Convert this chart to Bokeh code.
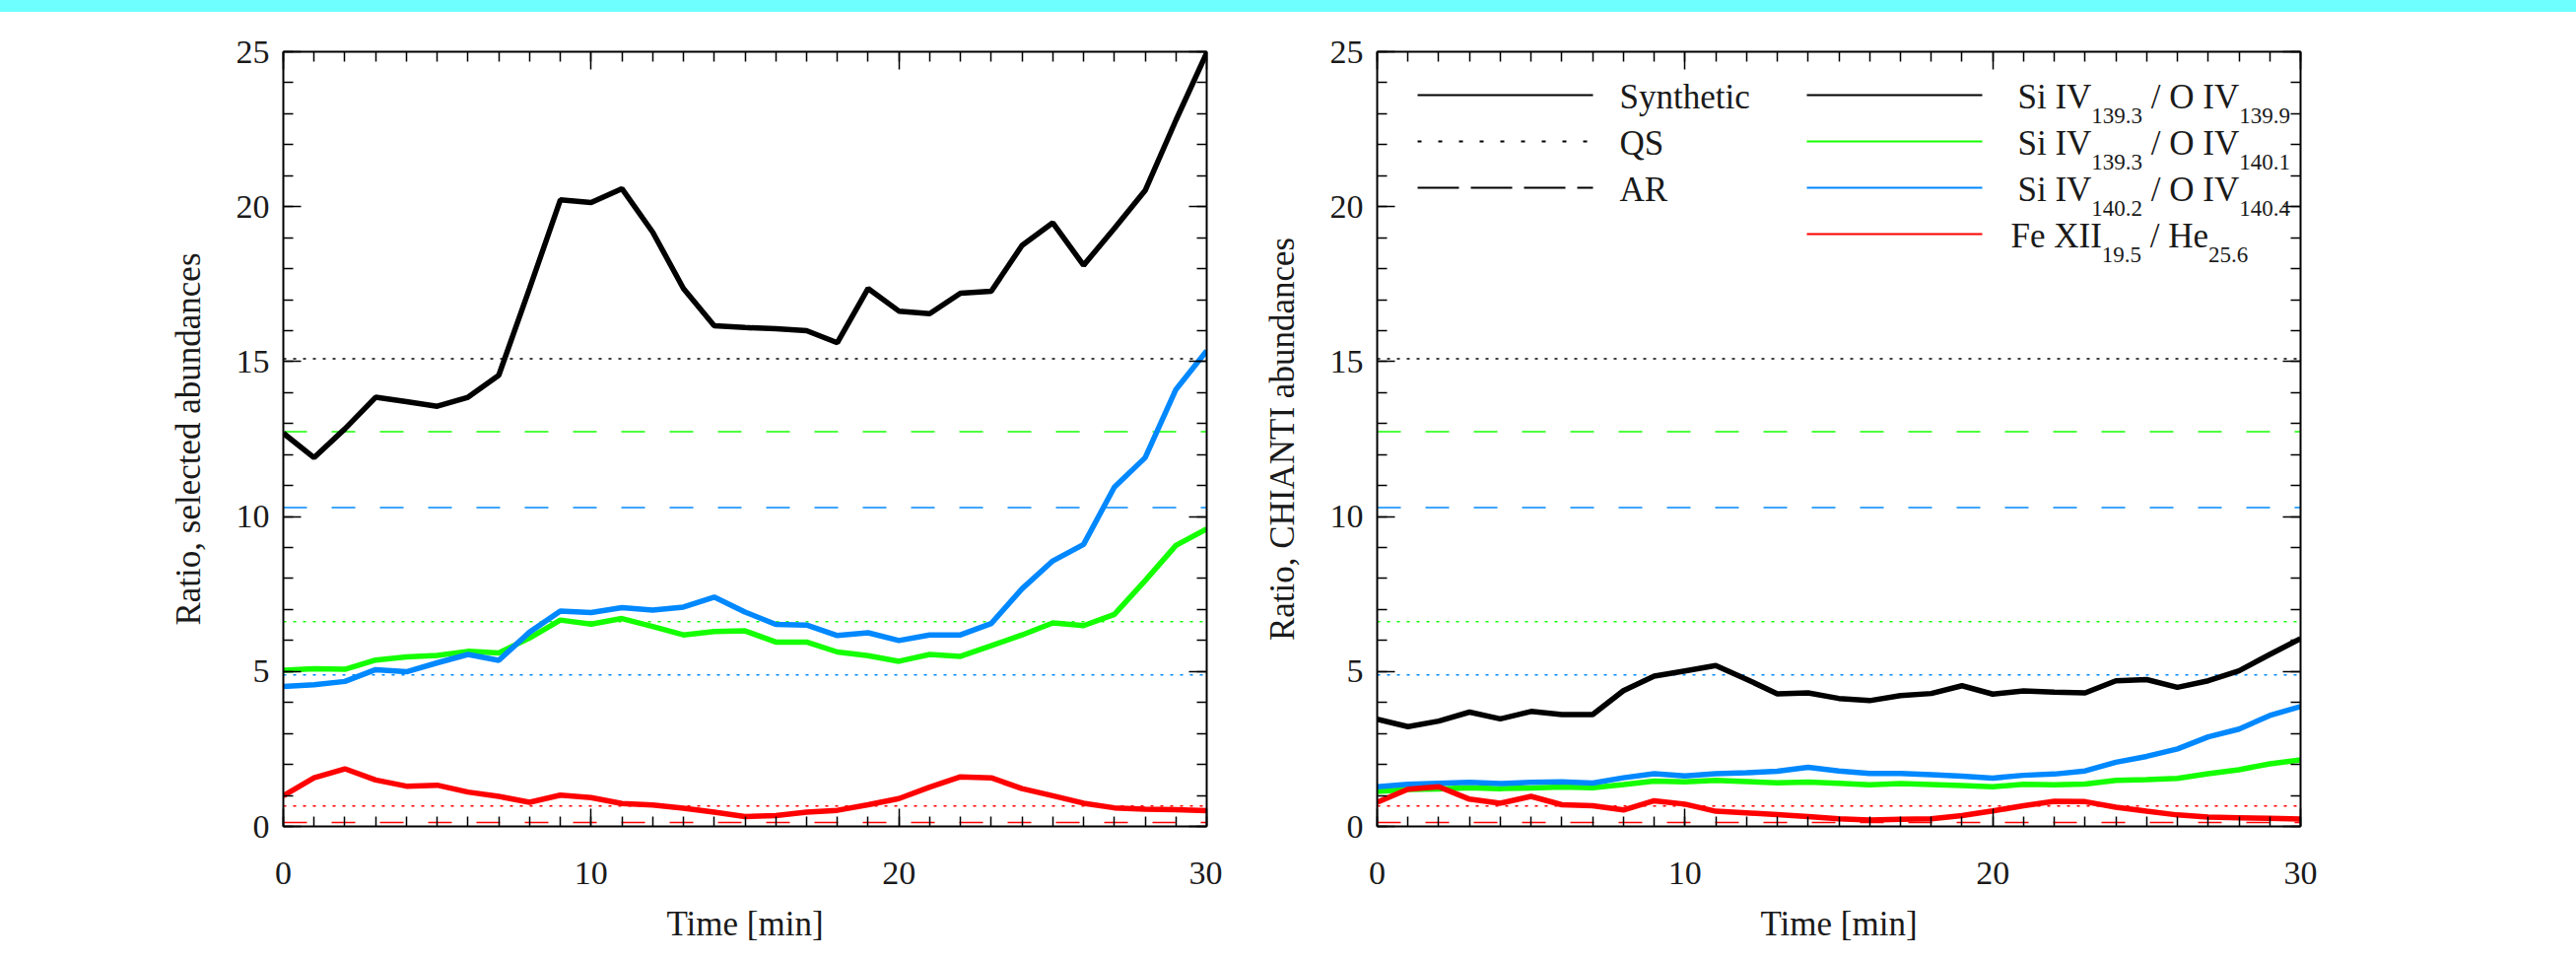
from bokeh.plotting import figure
from bokeh.models import Range1d, FixedTicker, LinearAxis, Label, Div, Span
from bokeh.layouts import row, column
from bokeh.embed import file_html
from bokeh.resources import INLINE

# ---------------- data ----------------
time_min = list(range(31))

# Left panel: ratios with selected abundances
sel_siiv1393_oiv1399 = [12.69, 11.90, 12.83, 13.85, 13.71, 13.56, 13.85, 14.56, 17.36, 20.22, 20.13,
                        20.58, 19.18, 17.36, 16.16, 16.10, 16.06, 16.00, 15.61, 17.36, 16.63,
                        16.55, 17.21, 17.27, 18.75, 19.48, 18.11, 19.30, 20.52, 22.79, 24.96]
sel_siiv1393_oiv1401 = [5.04, 5.09, 5.07, 5.37, 5.47, 5.52, 5.65, 5.60, 6.08, 6.66, 6.53,
                        6.71, 6.45, 6.18, 6.29, 6.31, 5.95, 5.95, 5.63, 5.51, 5.33,
                        5.55, 5.49, 5.83, 6.18, 6.57, 6.48, 6.84, 7.93, 9.07, 9.60]
sel_siiv1402_oiv1404 = [4.52, 4.57, 4.68, 5.06, 4.99, 5.28, 5.55, 5.36, 6.27, 6.95, 6.90,
                        7.06, 6.98, 7.08, 7.40, 6.92, 6.52, 6.50, 6.16, 6.25, 6.00,
                        6.18, 6.18, 6.55, 7.67, 8.57, 9.10, 10.95, 11.90, 14.10, 15.35]
sel_fexii195_he256 = [0.99, 1.57, 1.86, 1.50, 1.30, 1.33, 1.11, 0.97, 0.78, 1.01, 0.93,
                      0.74, 0.69, 0.59, 0.46, 0.32, 0.35, 0.46, 0.52, 0.70, 0.90,
                      1.27, 1.60, 1.57, 1.22, 0.99, 0.75, 0.60, 0.56, 0.54, 0.51]

# Right panel: ratios with CHIANTI abundances
chi_siiv1393_oiv1399 = [3.46, 3.22, 3.40, 3.69, 3.47, 3.71, 3.61, 3.61, 4.38, 4.85, 5.02,
                        5.19, 4.75, 4.28, 4.31, 4.13, 4.06, 4.22, 4.29, 4.54, 4.27,
                        4.37, 4.33, 4.31, 4.70, 4.74, 4.49, 4.70, 5.02, 5.55, 6.06]
chi_siiv1393_oiv1401 = [1.13, 1.19, 1.21, 1.25, 1.22, 1.24, 1.27, 1.25, 1.35, 1.46, 1.44,
                        1.49, 1.45, 1.41, 1.43, 1.39, 1.34, 1.38, 1.35, 1.32, 1.28,
                        1.36, 1.34, 1.37, 1.49, 1.51, 1.55, 1.70, 1.83, 2.02, 2.15]
chi_siiv1402_oiv1404 = [1.28, 1.36, 1.39, 1.42, 1.38, 1.42, 1.44, 1.40, 1.57, 1.70, 1.63,
                        1.70, 1.73, 1.78, 1.91, 1.79, 1.71, 1.71, 1.67, 1.62, 1.56,
                        1.65, 1.69, 1.79, 2.07, 2.26, 2.50, 2.89, 3.14, 3.58, 3.87]
chi_fexii195_he256 = [0.78, 1.20, 1.28, 0.88, 0.75, 0.97, 0.70, 0.67, 0.53, 0.83, 0.72,
                      0.49, 0.44, 0.38, 0.32, 0.25, 0.21, 0.23, 0.25, 0.35, 0.50,
                      0.67, 0.81, 0.80, 0.62, 0.49, 0.37, 0.30, 0.28, 0.26, 0.24]

# Quiet Sun (QS) and Active Region (AR) reference ratios
qs_levels = [15.09, 6.61, 4.89, 0.66]     # black, green, blue, red
ar_levels = [None, 12.74, 10.29, 0.13]    # black AR is off scale

x_ticks = [0, 10, 20, 30]
y_ticks = [0, 5, 10, 15, 20, 25]
y_minor = list(range(26))

ratio_names = [("Si IV", "139.3", "/ O IV", "139.9"),
               ("Si IV", "139.3", "/ O IV", "140.1"),
               ("Si IV", "140.2", "/ O IV", "140.4"),
               ("Fe XII", "19.5", "/ He", "25.6")]
style_names = ["Synthetic", "QS", "AR"]

# ---------------- style / layout ----------------
COLORS = ["#000000", "#14ff00", "#0088ff", "#ff0000"]
FONT = "Liberation Serif"
FRAME_W, FRAME_H = 937, 786
BAND_H = 12
TOP_B, BOT_B = 40, 135
DOT = "3 7"
DASH = "24 25"


def make_panel(ylabel, left_b, right_b):
    p = figure(frame_width=FRAME_W, frame_height=FRAME_H,
               x_range=Range1d(0, 30), y_range=Range1d(0, 25),
               output_backend="svg", toolbar_location=None,
               min_border_left=left_b, min_border_right=right_b,
               min_border_top=TOP_B, min_border_bottom=BOT_B,
               x_axis_label="Time [min]", y_axis_label=ylabel)
    p.grid.visible = False
    p.outline_line_color = None
    p.background_fill_color = "white"
    p.border_fill_color = "white"
    top = LinearAxis()
    right = LinearAxis()
    p.add_layout(top, "above")
    p.add_layout(right, "right")
    for ax in p.xaxis:
        ax.ticker = FixedTicker(ticks=x_ticks, minor_ticks=time_min)
    for ax in p.yaxis:
        ax.ticker = FixedTicker(ticks=y_ticks, minor_ticks=y_minor)
    for ax in list(p.xaxis) + list(p.yaxis):
        ax.axis_line_color = "black"
        ax.axis_line_width = 2
        ax.major_tick_line_color = "black"
        ax.minor_tick_line_color = "black"
        ax.major_tick_line_width = 1.5
        ax.minor_tick_line_width = 1.5
        ax.major_tick_in = 18
        ax.major_tick_out = 0
        ax.minor_tick_in = 10
        ax.minor_tick_out = 0
        ax.major_label_text_font = FONT
        ax.major_label_text_font_size = "34px"
        ax.major_label_text_color = "#1a1a1a"
        ax.axis_label_text_font = FONT
        ax.axis_label_text_font_size = "35px"
        ax.axis_label_text_font_style = "normal"
        ax.axis_label_text_color = "#1a1a1a"
    for ax in (top, right):
        ax.major_label_text_font_size = "2px"
        ax.major_label_text_color = None
        ax.major_label_standoff = 0
        ax.axis_label = None
    p.below[0].major_label_standoff = 36
    p.below[0].axis_label_standoff = 18
    p.left[0].major_label_standoff = 14
    p.left[0].axis_label_standoff = 26
    return p


def add_levels(p):
    for c, q, a in zip(COLORS, qs_levels, ar_levels):
        p.add_layout(Span(location=q, dimension="width", line_color=c,
                          line_width=1.5, line_dash=DOT, level="underlay"))
        if a is not None:
            p.add_layout(Span(location=a, dimension="width", line_color=c,
                              line_width=1.5, line_dash=DASH, level="underlay"))


def add_series(p, series):
    for c, s in zip(COLORS, series):
        p.line(time_min, s, line_color=c, line_width=5.5)


FIG1_RIGHT = 16
FIG2_LEFT = 157
p1 = make_panel("Ratio, selected abundances", 287, FIG1_RIGHT)
p2 = make_panel("Ratio, CHIANTI abundances", FIG2_LEFT,
                2614 - (287 + FRAME_W + FIG1_RIGHT) - FIG2_LEFT - FRAME_W)

add_levels(p1)
add_levels(p2)
add_series(p1, [sel_siiv1393_oiv1399, sel_siiv1393_oiv1401, sel_siiv1402_oiv1404, sel_fexii195_he256])
add_series(p2, [chi_siiv1393_oiv1399, chi_siiv1393_oiv1401, chi_siiv1402_oiv1404, chi_fexii195_he256])

# ---------------- legend (in right panel) ----------------
FR2_LEFT_PX = 1397.0
FR_BOTTOM_PX = BAND_H + TOP_B + FRAME_H


def dx(px):
    return (px - FR2_LEFT_PX) / FRAME_W * 30.0


def dy(py):
    return (FR_BOTTOM_PX - py) / FRAME_H * 25.0


TIMES_W = {' ': 250, '/': 278, '.': 250, 'S': 556, 'i': 278, 'I': 333, 'V': 722, 'O': 722,
           'F': 556, 'e': 444, 'X': 722, 'H': 722}
for d in "0123456789":
    TIMES_W[d] = 500


def tw(s, size):
    return sum(TIMES_W.get(ch, 500) for ch in s) * size / 1000.0


MAIN_FS, SUB_FS, SUB_DROP = 35, 23, 19
TEXT_SHIFT = 9            # Bokeh places the alphabetic baseline a little low
row_base = [107, 154, 201, 248]
row_line = [96, 143, 190, 237]

for i, name in enumerate(style_names):
    dash = [None, "4 17", "42 12"][i]
    kw = dict(line_color="black", line_width=1.8)
    if dash:
        kw["line_dash"] = dash
    p2.line([dx(1438), dx(1616)], [dy(row_line[i])] * 2, **kw)
    p2.add_layout(Label(x=dx(1643), y=dy(row_base[i] - TEXT_SHIFT), text=name, text_font=FONT,
                        text_font_size=f"{MAIN_FS}px", text_baseline="alphabetic",
                        text_align="left", text_color="#1a1a1a"))

for i, (a, sa, b, sb) in enumerate(ratio_names):
    p2.line([dx(1833), dx(2011)], [dy(row_line[i])] * 2, line_color=COLORS[i], line_width=2)
    x0 = 2040 if i == 3 else 2047
    pieces = [(a, MAIN_FS, 0), (sa, SUB_FS, SUB_DROP), (b, MAIN_FS, 0), (sb, SUB_FS, SUB_DROP)]
    x = x0
    for j, (txt, fs, drop) in enumerate(pieces):
        if j == 2:
            x += tw(" ", MAIN_FS)
        p2.add_layout(Label(x=dx(x), y=dy(row_base[i] + drop - TEXT_SHIFT), text=txt,
                            text_font=FONT, text_font_size=f"{fs}px",
                            text_baseline="alphabetic", text_align="left",
                            text_color="#1a1a1a"))
        x += tw(txt, fs)

band = Div(text="", width=2614, height=BAND_H, margin=0,
           styles={"background-color": "#6effff"})
layout = column(band, row(p1, p2, spacing=0), spacing=0)

open("out.html", "w").write(file_html(layout, INLINE))
